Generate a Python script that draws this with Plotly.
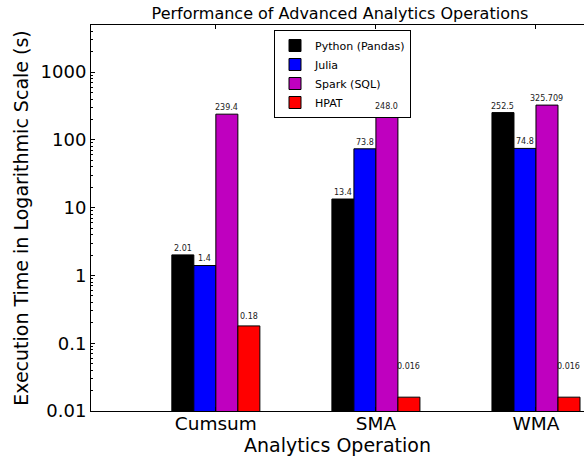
import numpy as np
import plotly.graph_objects as go

categories = ["Cumsum", "SMA", "WMA"]
series_names = ["Python (Pandas)", "Julia", "Spark (SQL)", "HPAT"]
python_pandas = [2.01, 13.4, 252.5]
julia = [1.4, 73.8, 74.8]
spark_sql = [239.4, 248.0, 325.709]
hpat = [0.18, 0.016, 0.016]
value_labels = [
    ["2.01", "13.4", "252.5"],
    ["1.4", "73.8", "74.8"],
    ["239.4", "248.0", "325.709"],
    ["0.18", "0.016", "0.016"],
]
ytick_vals = [0.01, 0.1, 1, 10, 100, 1000]
ytick_text = ["0.01", "0.1", "1", "10", "100", "1000"]

series = [python_pandas, julia, spark_sql, hpat]
colors = ["#000000", "#0000ff", "#bf00bf", "#ff0000"]

W, H = 584, 458
L, R, T, B = 91, 0, 25, 47
bar_w = 0.1375
idx = np.arange(len(categories))

fig = go.Figure()
annotations = []
for i, (name, vals) in enumerate(zip(series_names, series)):
    xs = idx + (i - 1.5) * bar_w
    fig.add_trace(go.Bar(
        x=xs, y=vals, name=name, width=bar_w,
        marker=dict(color=colors[i], line=dict(color="black", width=1)),
    ))
    for x, v, lab in zip(xs, vals, value_labels[i]):
        annotations.append(dict(
            x=x, y=np.log10(v + 0.02), xref="x", yref="y", text=lab,
            showarrow=False, yanchor="bottom", xanchor="center",
            font=dict(size=8, color="#222222", family="DejaVu Sans"),
        ))

fig.update_layout(
    width=W, height=H,
    margin=dict(l=L, r=R, t=T, b=B, pad=0, autoexpand=False),
    paper_bgcolor="white", plot_bgcolor="white",
    barmode="overlay",
    font=dict(family="DejaVu Sans", color="black"),
    title=dict(text="Performance of Advanced Analytics Operations",
               x=340 / W, xref="container", xanchor="center",
               y=1 - 13 / H, yref="container", yanchor="middle",
               font=dict(size=16, family="DejaVu Sans", color="black")),
    legend=dict(x=(274 - L) / (W - L - R), y=(H - B - 30) / (H - T - B),
                xanchor="left", yanchor="top",
                bgcolor="white", bordercolor="black", borderwidth=1,
                font=dict(size=11, family="DejaVu Sans"),
                tracegroupgap=0),
    annotations=annotations,
    showlegend=True,
)
fig.update_xaxes(
    range=[-0.78, (W - R - 216) / 160],
    tickvals=idx, ticktext=categories,
    ticks="inside", ticklen=4, tickcolor="black",
    showline=True, linecolor="black", linewidth=1, mirror="ticks",
    showgrid=False, zeroline=False, automargin=False,
    ticklabelstandoff=-4,
    tickfont=dict(size=18.5, family="DejaVu Sans", color="black"),
    title=dict(text="Analytics Operation", standoff=5,
               font=dict(size=19, family="DejaVu Sans", color="black")),
)
fig.update_yaxes(
    type="log", range=[-2, np.log10(4950)],
    tickvals=ytick_vals, ticktext=ytick_text,
    ticks="inside", ticklen=4, tickcolor="black",
    minor=dict(ticks="inside", ticklen=2, tickcolor="black", dtick="D1", showgrid=False),
    showline=True, linecolor="black", linewidth=1, mirror=False,
    showgrid=False, zeroline=False, automargin=False,
    tickfont=dict(size=18, family="DejaVu Sans", color="black"),
    title=dict(text="Execution Time in Logarithmic Scale (s)", standoff=6,
               font=dict(size=19, family="DejaVu Sans", color="black")),
)

fig.write_html(
    "out.html",
    config={"displayModeBar": False},
    post_script="document.body.style.margin='0';document.body.style.padding='0';",
)
